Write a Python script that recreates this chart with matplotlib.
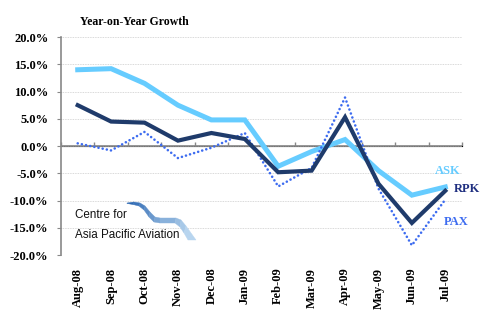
#!/usr/bin/env python3

import numpy as np
import matplotlib
matplotlib.use('Agg')
import matplotlib.pyplot as plt
from matplotlib.patches import Polygon
from matplotlib.colors import to_rgb

months = ['Aug-08', 'Sep-08', 'Oct-08', 'Nov-08', 'Dec-08', 'Jan-09',
          'Feb-09', 'Mar-09', 'Apr-09', 'May-09', 'Jun-09', 'Jul-09']
ask = [14.0, 14.2, 11.5, 7.5, 4.8, 4.8, -3.7, -1.0, 1.2, -4.5, -9.0, -7.5]
rpk = [7.5, 4.5, 4.3, 1.0, 2.4, 1.3, -4.8, -4.5, 5.3, -6.9, -14.1, -8.2]
pax = [0.5, -0.8, 2.6, -2.2, -0.3, 2.4, -7.4, -4.0, 8.9, -7.8, -18.2, -9.8]

SERIF = ['Liberation Serif', 'DejaVu Serif']
ASK_C = '#66CCFF'
RPK_C = '#1F3B6B'
PAX_C = '#3D6CF0'


def px(pts):
    """Pixel positions (500x325, top-left origin) to figure fractions."""
    return [(x / 500, 1 - y / 325) for x, y in pts]


def draw_logo(fig):
    logo_font = ['Liberation Sans', 'DejaVu Sans']
    fig.text(75 / 500, 1 - 218 / 325, 'Centre for', family=logo_font,
             fontsize=8.4, va='baseline', ha='left', color='#111111')
    fig.text(75 / 500, 1 - 238 / 325, 'Asia Pacific Aviation', family=logo_font,
             fontsize=8.4, va='baseline', ha='left', color='#111111')
    # swoosh ribbon: top/bottom edge pairs, shaded dark -> light
    edges = [((127, 203), (127, 203.5)), ((134, 202), (133, 204.5)),
             ((140, 203), (139, 206)), ((145, 206), (144, 210)),
             ((150, 212), (149, 217)), ((155, 217), (154, 222)),
             ((160, 218), (160, 223)), ((176, 218), (175, 223)),
             ((181, 220), (180, 227)), ((186, 226), (184, 233)),
             ((196, 240), (188, 240))]
    c0, c1 = np.array(to_rgb('#2C68B2')), np.array(to_rgb('#B8D5EF'))
    n = len(edges) - 1
    for i in range(n):
        (t0, b0), (t1, b1) = edges[i], edges[i + 1]
        c = c0 + (c1 - c0) * (i / (n - 1))
        fig.patches.append(Polygon(px([t0, t1, b1, b0]), closed=True,
                                   transform=fig.transFigure,
                                   facecolor=c, edgecolor=c, lw=0.3))


def plot_growth(out_file):
    fig = plt.figure(figsize=(5, 3.25), dpi=100)
    ax = fig.add_axes([0.122, 0.215, 0.802, 0.671])
    x = np.arange(len(months))

    ax.plot(x, ask, color=ASK_C, lw=3.6, solid_joinstyle='miter', zorder=3)
    ax.plot(x, pax, color=PAX_C, lw=1.9, linestyle=(0, (0.01, 1.6)),
            dash_capstyle='round', zorder=4)
    ax.plot(x, rpk, color=RPK_C, lw=3.0, solid_joinstyle='miter', zorder=5)

    ax.set_xlim(-0.5, len(months) - 0.5)
    ax.set_ylim(-20, 20)
    yt = np.arange(-20, 21, 5)
    ax.set_yticks(yt)
    ax.set_yticklabels([f'{v:.1f}%' for v in yt],
                       family=SERIF, fontweight='bold', fontsize=9)
    ax.set_xticks(x)
    ax.set_xticklabels(months, rotation=90, family=SERIF, fontweight='bold',
                       fontsize=9)
    ax.tick_params(axis='x', length=0, pad=9)
    ax.tick_params(axis='y', length=3, color='#888888', pad=6)
    ax.grid(True, axis='y', color='#cccccc', linestyle=(0, (1, 1)), lw=0.6)
    ax.set_axisbelow(True)
    for s in ['top', 'right', 'bottom']:
        ax.spines[s].set_visible(False)
    ax.spines['left'].set_color('#888888')
    ax.spines['left'].set_linewidth(1.2)

    # zero line with category boundary ticks
    ax.axhline(0, color='#888888', lw=1.2, zorder=2)
    zero = ax.secondary_xaxis(0.5)
    zero.set_xticks(np.arange(-0.5, len(months), 1.0))
    zero.set_xticklabels([])
    zero.tick_params(length=3, color='#888888', width=1)
    zero.spines['bottom'].set_visible(False)

    ax.text(0.048, 1.07, 'Year-on-Year Growth', transform=ax.transAxes,
            family=SERIF, fontweight='bold', fontsize=8.5, va='center')

    ax.text(11.07, -4.6, 'ASK', color=ASK_C, family=SERIF, fontweight='bold',
            fontsize=9, ha='center', va='center', clip_on=False)
    ax.text(11.64, -7.9, 'RPK', color='#1F2F80', family=SERIF, fontweight='bold',
            fontsize=9, ha='center', va='center', clip_on=False)
    ax.text(11.34, -13.9, 'PAX', color=PAX_C, family=SERIF, fontweight='bold',
            fontsize=9, ha='center', va='center', clip_on=False)

    draw_logo(fig)
    fig.savefig(out_file, dpi=100)


def main():
    plot_growth('out.png')


if __name__ == "__main__":
    main()
